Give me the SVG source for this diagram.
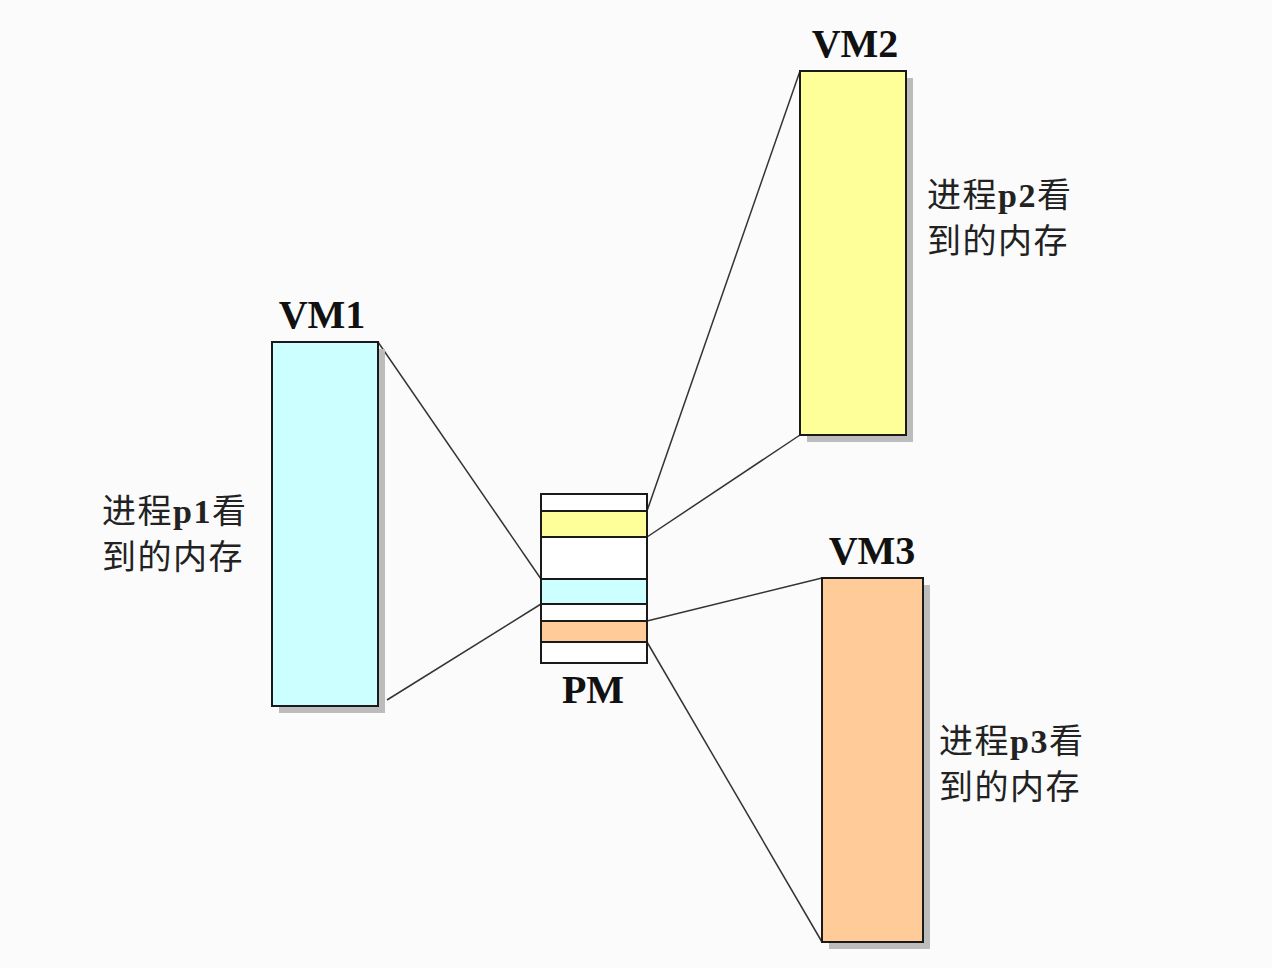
<svg xmlns="http://www.w3.org/2000/svg" width="1272" height="968" viewBox="0 0 1272 968">
<style>
.box{stroke:#1a1a1a;stroke-width:2}
.sh{fill:#bcbcbc}
.lbl{font-family:"Liberation Serif",serif;font-weight:bold;font-size:40px;fill:#111;text-anchor:middle}
.cn{font-family:"Liberation Serif","Noto Sans CJK SC",serif;font-size:34px;fill:#222;letter-spacing:1.5px}
.cn tspan.b{font-weight:bold}
.ln{stroke:#333;stroke-width:1.5;fill:none}
</style>
<rect width="1272" height="968" fill="#fbfbfb"/>
<g id="connectors">
<line class="ln" x1="378" y1="342" x2="541" y2="579"/>
<line class="ln" x1="387" y1="700" x2="541" y2="604"/>
<line class="ln" x1="800" y1="71" x2="647" y2="511"/>
<line class="ln" x1="800" y1="435" x2="647" y2="537"/>
<line class="ln" x1="822" y1="578" x2="647" y2="621"/>
<line class="ln" x1="822" y1="942" x2="647" y2="642"/>
</g>
<g id="vm1">
<rect class="sh" x="279" y="349" width="106" height="364"/>
<rect class="box" x="272" y="342" width="106" height="364" fill="#ccffff"/>
<text class="lbl" x="322" y="328">VM1</text>
</g>
<g id="vm2">
<rect class="sh" x="807" y="78" width="106" height="364"/>
<rect class="box" x="800" y="71" width="106" height="364" fill="#ffff99"/>
<text class="lbl" x="855" y="57">VM2</text>
</g>
<g id="vm3">
<rect class="sh" x="829" y="585" width="101" height="364"/>
<rect class="box" x="822" y="578" width="101" height="364" fill="#ffcc99"/>
<text class="lbl" x="872" y="564">VM3</text>
</g>
<g id="pm">
<rect class="box" x="541" y="494" width="106" height="169" fill="#ffffff"/>
<rect class="box" x="541" y="511" width="106" height="26" fill="#ffff99"/>
<rect class="box" x="541" y="579" width="106" height="25" fill="#ccffff"/>
<rect class="box" x="541" y="621" width="106" height="21" fill="#ffcc99"/>
<text class="lbl" x="593" y="703">PM</text>
</g>
<g id="label-p1">
<text class="cn" x="102" y="523">进程<tspan class="b">p1</tspan>看</text>
<text class="cn" x="102" y="569">到的内存</text>
</g>
<g id="label-p2">
<text class="cn" x="927" y="207">进程<tspan class="b">p2</tspan>看</text>
<text class="cn" x="927" y="253">到的内存</text>
</g>
<g id="label-p3">
<text class="cn" x="939" y="753">进程<tspan class="b">p3</tspan>看</text>
<text class="cn" x="939" y="799">到的内存</text>
</g>
</svg>
